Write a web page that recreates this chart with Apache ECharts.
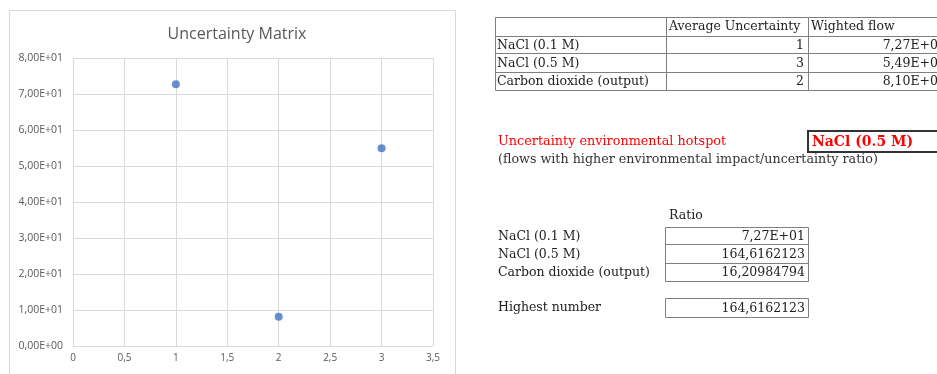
<!DOCTYPE html>
<html>
<head>
<meta charset="utf-8">
<script src="https://cdn.jsdelivr.net/npm/echarts@6/dist/echarts.min.js"></script>
<style>
  html, body { margin: 0; padding: 0; background: #fff; }
  #chart-container { width: 937px; height: 374px; }
</style>
</head>
<body>
<div id="chart-container"></div>
<script>
// datos de la hoja
const flowNames = ['NaCl (0.1 M)', 'NaCl (0.5 M)', 'Carbon dioxide (output)'];
const avgUncertainty = [1, 3, 2];
const weightedFlow = [72.7, 54.9, 8.10];
const ratioLabels = ['7,27E+01', '164,6162123', '16,20984794'];
const highestNumber = '164,6162123';
const hotspot = 'NaCl (0.5 M)';
const xTicks = [0, 0.5, 1, 1.5, 2, 2.5, 3, 3.5];
const yTicks = [0, 10, 20, 30, 40, 50, 60, 70, 80];

let myChart = echarts.init(document.getElementById('chart-container'), null, {
  renderer: 'canvas'
});

const serif = 'DejaVu Serif';
const gris = '#595959';
const borde = '#7f7f7f';

function expComa(v) {
  if (v === 0) return '0,00E+00';
  let e = Math.floor(Math.log10(Math.abs(v)));
  let m = v / Math.pow(10, e);
  let s = e < 0 ? '-' : '+';
  return m.toFixed(2).replace('.', ',') + 'E' + s + String(Math.abs(e)).padStart(2, '0');
}

function texto(x, y, t, opts) {
  return {
    type: 'text', x: x, y: y, silent: true,
    style: Object.assign({
      text: t, fill: '#222', font: '12.5px "' + serif + '"',
      textAlign: 'left', textVerticalAlign: 'middle'
    }, opts || {})
  };
}

function caja(x, y, w, h, opts) {
  return {
    type: 'rect', silent: true,
    shape: { x: x, y: y, width: w, height: h },
    style: Object.assign({ fill: 'none', stroke: borde, lineWidth: 1 }, opts || {})
  };
}

let elementos = [];

// marco del grafico
elementos.push(caja(9.5, 10.5, 446, 380, { stroke: '#d9d9d9' }));

// tabla 1
const t1Cols = [495, 666, 808, 960];
const t1Rows = [17, 36, 53, 72, 90];
for (let r = 0; r < 4; r++) {
  for (let c = 0; c < 3; c++) {
    elementos.push(caja(t1Cols[c] + 0.5, t1Rows[r] + 0.5, t1Cols[c + 1] - t1Cols[c], t1Rows[r + 1] - t1Rows[r]));
  }
}
elementos.push(texto(669, 27, 'Average Uncertainty'));
elementos.push(texto(811, 27, 'Wighted flow'));
flowNames.forEach((n, i) => {
  let cy = (t1Rows[i + 1] + t1Rows[i + 2]) / 2 + 1;
  elementos.push(texto(497, cy, n));
  elementos.push(texto(804, cy, String(avgUncertainty[i]), { textAlign: 'right' }));
  elementos.push(texto(946, cy, expComa(weightedFlow[i]), { textAlign: 'right' }));
});

// hotspot
elementos.push(texto(498, 142, 'Uncertainty environmental hotspot', { fill: '#ff0000', font: '12.8px "' + serif + '"' }));
elementos.push(texto(498, 160, '(flows with higher environmental impact/uncertainty ratio)', { fill: '#333', font: '12.7px "' + serif + '"' }));
elementos.push(caja(808, 131, 140, 21, { stroke: '#333', lineWidth: 2 }));
elementos.push(texto(812, 142, hotspot, { fill: '#ff0000', font: 'bold 14px "' + serif + '"' }));

// tabla ratio
const t2Rows = [227, 244, 263, 281];
elementos.push(texto(669, 216, 'Ratio'));
flowNames.forEach((n, i) => {
  let cy = (t2Rows[i] + t2Rows[i + 1]) / 2 + 1;
  elementos.push(caja(665.5, t2Rows[i] + 0.5, 143, t2Rows[i + 1] - t2Rows[i]));
  elementos.push(texto(498, cy, n));
  elementos.push(texto(805, cy, ratioLabels[i], { textAlign: 'right' }));
});
elementos.push(caja(665.5, 298.5, 143, 19));
elementos.push(texto(498, 308, 'Highest number'));
elementos.push(texto(805, 309, highestNumber, { textAlign: 'right' }));

const opciones = {
  animation: false,
  backgroundColor: '#fff',
  title: {
    text: 'Uncertainty Matrix',
    left: 232, top: 21, textAlign: 'center',
    textStyle: { color: gris, fontSize: 16, fontWeight: 'normal', fontFamily: 'Open Sans' }
  },
  grid: { left: 73, right: 504, top: 58, bottom: 28, containLabel: false },
  xAxis: {
    type: 'value', min: xTicks[0], max: xTicks[xTicks.length - 1], interval: 0.5,
    axisLine: { show: false },
    axisTick: { show: false },
    splitLine: { show: true, lineStyle: { color: '#d9d9d9', width: 1 } },
    axisLabel: {
      color: gris, fontSize: 10, fontFamily: 'Open Sans', margin: 7,
      formatter: v => String(v).replace('.', ',')
    }
  },
  yAxis: {
    type: 'value', min: yTicks[0], max: yTicks[yTicks.length - 1], interval: 10,
    axisLine: { show: false },
    axisTick: { show: false },
    splitLine: { show: true, lineStyle: { color: '#d9d9d9', width: 1 } },
    axisLabel: {
      color: gris, fontSize: 10.5, fontFamily: 'Open Sans', margin: 10,
      formatter: v => expComa(v)
    }
  },
  series: [{
    type: 'scatter',
    data: avgUncertainty.map((x, i) => [x, weightedFlow[i]]),
    symbolSize: 8,
    itemStyle: { color: '#4472c4' }
  }],
  graphic: elementos
};

myChart.setOption(opciones, true);
window.addEventListener('resize', myChart.resize);
</script>
</body>
</html>
